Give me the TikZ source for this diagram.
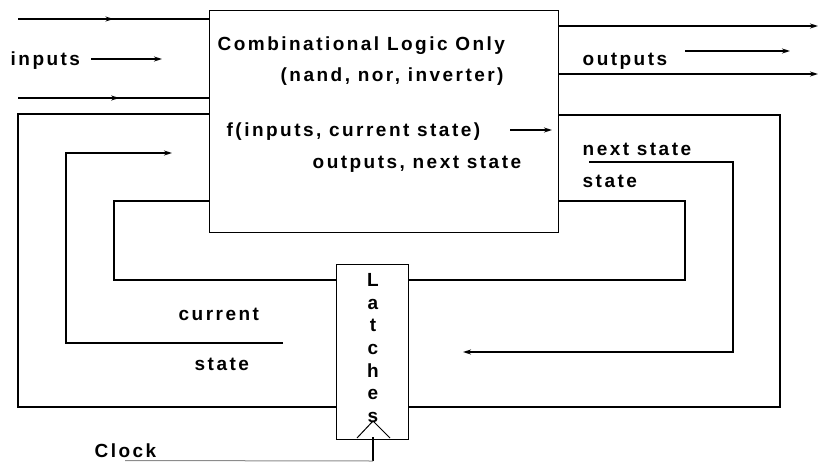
\documentclass[tikz,border=0pt]{standalone}
\usepackage{fontspec}
\setmainfont{Liberation Sans}[LetterSpace=13]
\usetikzlibrary{arrows.meta,decorations.markings}
\begin{document}
\begin{tikzpicture}[x=1pt,y=-1pt,line width=1.4pt,
  tip/.style={-{Stealth[length=8pt,width=5pt]}},
  midarrow/.style={postaction={decorate},decoration={markings,
      mark=at position #1 with {\arrow{Stealth[length=8pt,width=5pt]}}}},
  lbl/.style={anchor=base west,inner sep=0pt,font=\fontsize{19}{21}\selectfont\bfseries},
  block/.style={draw,anchor=north west,inner sep=0pt}]
\useasboundingbox (0,0) rectangle (819,461);

% blocks
\node[block,minimum width=349pt,minimum height=222pt] (logic) at (209,10) {};
\node[block,minimum width=72pt,minimum height=175pt] (latch) at (336,264) {};
\node[inner sep=0pt,anchor=north,align=center,
      font=\fontsize{19}{22.6}\selectfont\bfseries] (latchtxt) at (373,273)
      {L\\a\\t\\c\\h\\e\\s};

% texts
\node[lbl] (t1) at (217,50) {Combinational Logic Only};
\node[lbl] (t2) at (280,81) {(nand, nor, inverter)};
\node[lbl] (t3) at (226,136) {f(inputs, current state)};
\node[lbl] (t4) at (312,168) {outputs, next state};
\node[lbl] (tin) at (10,65) {inputs};
\node[lbl] (tout) at (582,65) {outputs};
\node[lbl] (tns) at (582,155) {next state};
\node[lbl] (tst) at (582,187) {state};
\node[lbl] (tcur) at (178,320) {current};
\node[lbl] (tcst) at (194,370) {state};
\node[lbl] (tclk) at (94,457) {Clock};

% free ends of the wires
\coordinate (in1) at (18,19);
\coordinate (in3) at (18,98);
\coordinate (out1) at (818,26);
\coordinate (out2) at (818,74);
\coordinate (ia) at (91,59);   \coordinate (ib) at (162,59);
\coordinate (oa) at (685,51);  \coordinate (ob) at (790,51);
\coordinate (fa) at (510,130); \coordinate (fb) at (552,130);
\coordinate (cs0) at (283,343); \coordinate (cs1) at (172,153);
\coordinate (ns0) at (589,162); \coordinate (ns1) at (463,352);
\coordinate (clk) at (373,461);

% inputs and outputs
\draw[midarrow=0.5] (in1) -- (in1 -| logic.west);
\draw[midarrow=0.53] (in3) -- (in3 -| logic.west);
\draw[tip] (out1 -| logic.east) -- (out1);
\draw[tip] (out2 -| logic.east) -- (out2);
\draw[tip] (ia) -- (ib);
\draw[tip] (oa) -- (ob);
\draw[tip] (fa) -- (fb);

% state feedback
\draw[tip] (cs0) -- (66,343) -- (66,153) -- (cs1);
\draw[tip] (ns0) -- (733,162) -- (733,352) -- (ns1);

% loops through the latches
\draw (logic.west |- 0,201) -- (114,201) -- (114,280) -- (latch.west |- 0,280);
\draw (logic.east |- 0,201) -- (685,201) -- (685,280) -- (latch.east |- 0,280);
\draw (logic.west |- 0,114) -- (18,114) -- (18,407) -- (latch.west |- 0,407);
\draw (logic.east |- 0,115) -- (780,115) -- (780,407) -- (latch.east |- 0,407);

% clock input
\draw[line width=1pt] (357,438) -- (373,421) -- (390,438);
\draw (clk) -- (373,437);
\draw[line width=1pt,black!45] (125,460.5) -- (clk);
\end{tikzpicture}
\end{document}
